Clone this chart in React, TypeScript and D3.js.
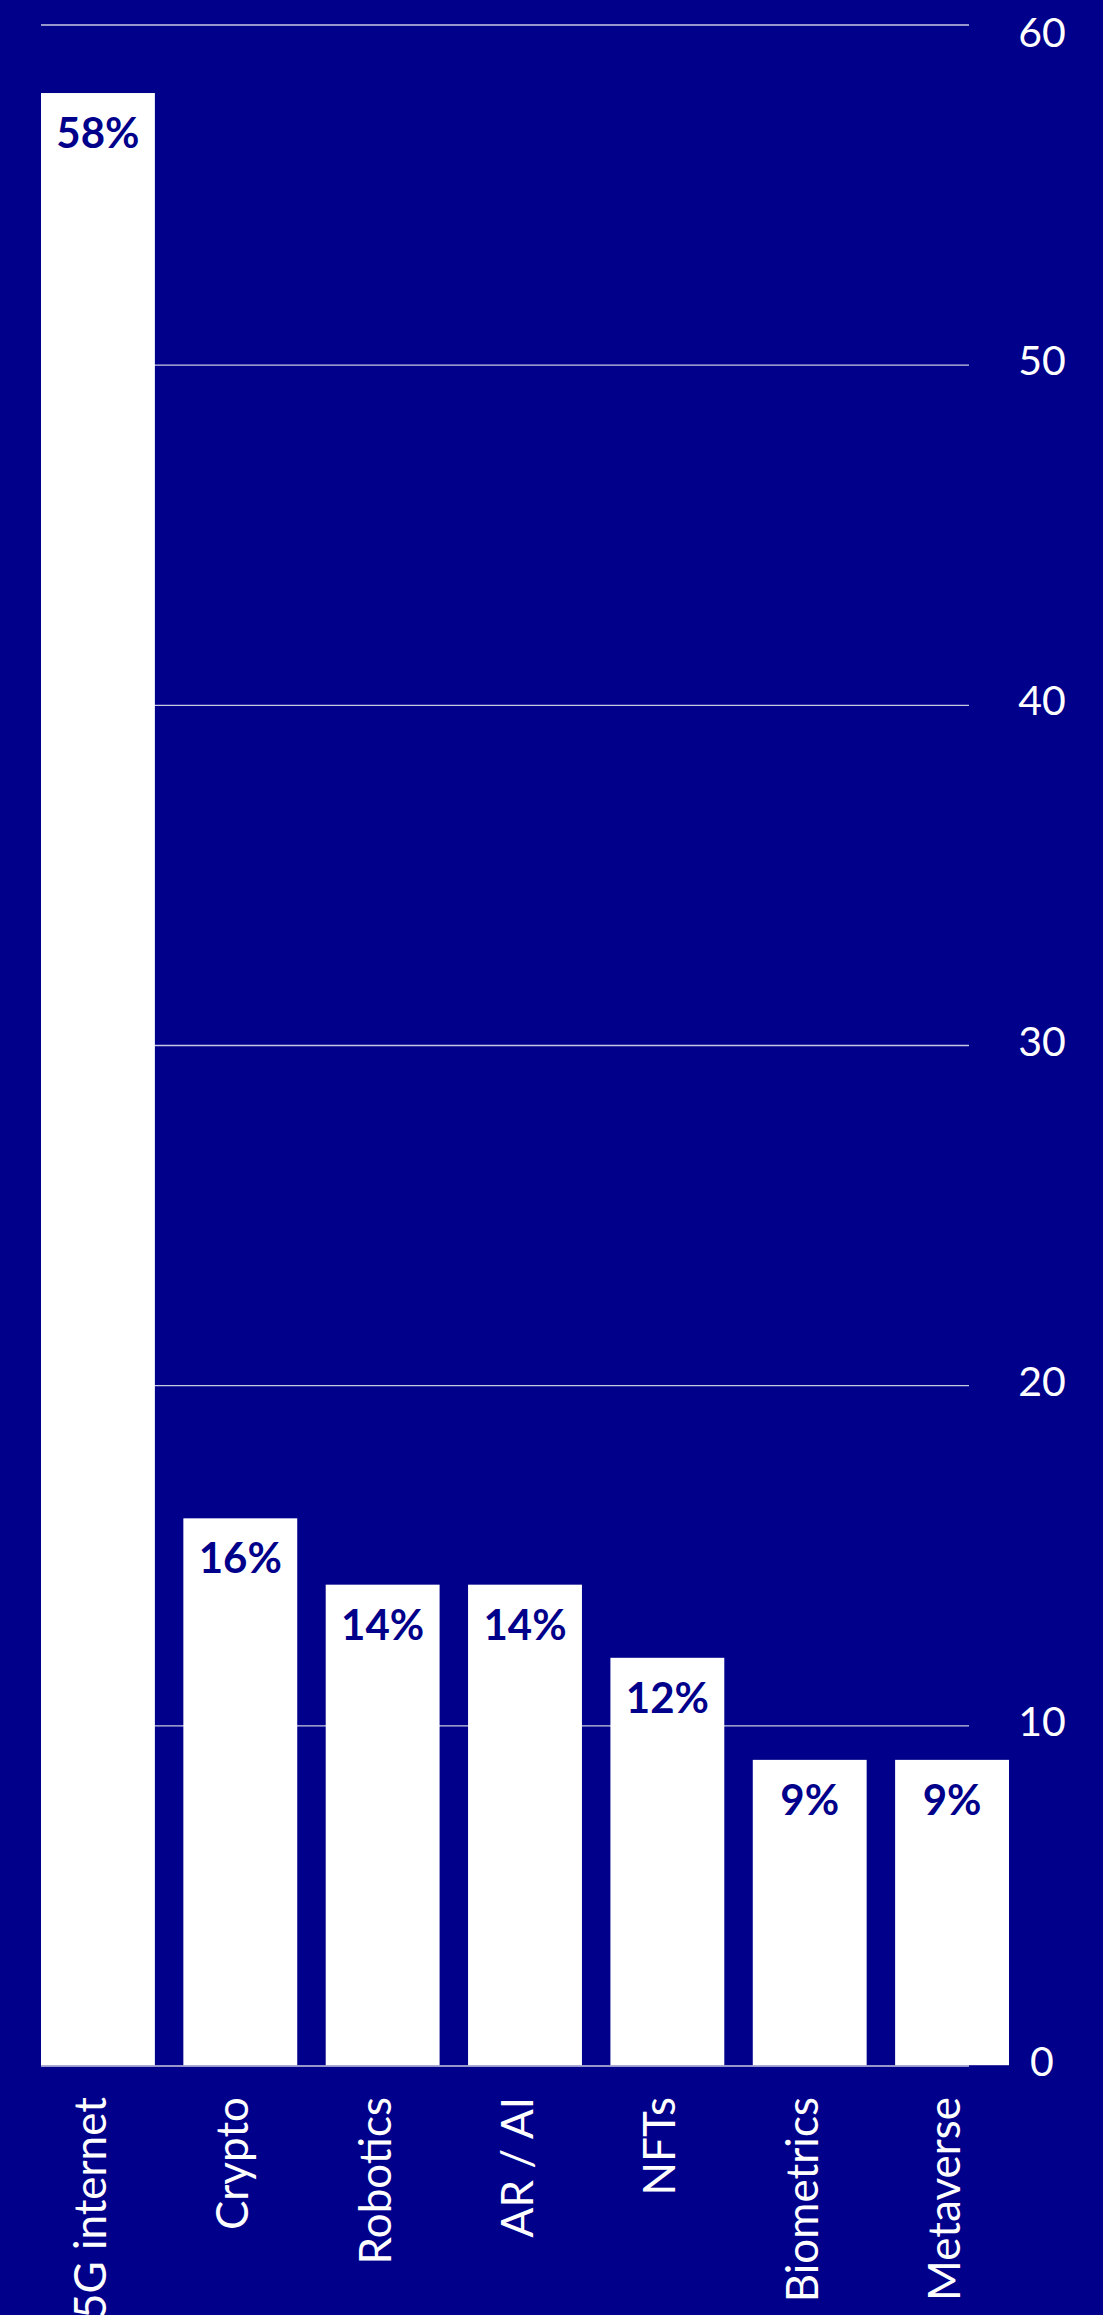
import React, { useEffect } from "react";
import * as d3 from "d3";

const categories = ["5G internet", "Crypto", "Robotics", "AR / AI", "NFTs", "Biometrics", "Metaverse"];
const values = [58, 16.1, 14.15, 14.15, 12, 9, 9];
const valueLabels = ["58%", "16%", "14%", "14%", "12%", "9%", "9%"];
const yTicks = [0, 10, 20, 30, 40, 50, 60];

const W = 1103;
const H = 2315;
const BG = "#00008b";
const FONT = "Lato, 'Source Sans Pro', sans-serif";

export default function App() {
  useEffect(() => {
    document.body.style.margin = "0";
    document.body.style.background = BG;
  }, []);

  const x = d3.scaleBand<string>().domain(categories).range([41, 1009]).paddingInner(0.2).paddingOuter(0);
  const y = d3.scaleLinear().domain([0, 60]).range([2066, 25]);
  const gridX1 = 41;
  const gridX2 = 969;
  const baseY = y(0);

  return (
    <svg width={W} height={H} style={{ display: "block", background: BG }} fontFamily={FONT}>
      <rect x={0} y={0} width={W} height={H} fill={BG} />
      {yTicks.map((t) => (
        <line key={"g" + t} x1={gridX1} x2={gridX2} y1={y(t)} y2={y(t)} stroke="#c8c8e0" strokeWidth={1.3} />
      ))}
      {categories.map((c, i) => (
        <rect key={"b" + c} x={x(c)} y={y(values[i])} width={x.bandwidth()} height={baseY - 0.8 - y(values[i])} fill="#ffffff" />
      ))}
      {categories.map((c, i) => (
        <text
          key={"v" + c}
          x={(x(c) as number) + x.bandwidth() / 2}
          y={y(values[i]) + 55}
          textAnchor="middle"
          fontSize={42}
          fontWeight={700}
          fill={BG}
        >
          {valueLabels[i]}
        </text>
      ))}
      {yTicks.map((t) => (
        <text
          key={"t" + t}
          x={1042}
          y={Math.max(y(t) + 10, 47)}
          textAnchor="middle"
          fontSize={41}
          fill="#ffffff"
        >
          {t}
        </text>
      ))}
      {categories.map((c) => (
        <text
          key={"c" + c}
          transform={`translate(${(x(c) as number) + x.bandwidth() / 2},${baseY + 31}) rotate(-90)`}
          textAnchor="end"
          dy="0.18em"
          fontSize={44}
          fill="#ffffff"
        >
          {c}
        </text>
      ))}
    </svg>
  );
}
